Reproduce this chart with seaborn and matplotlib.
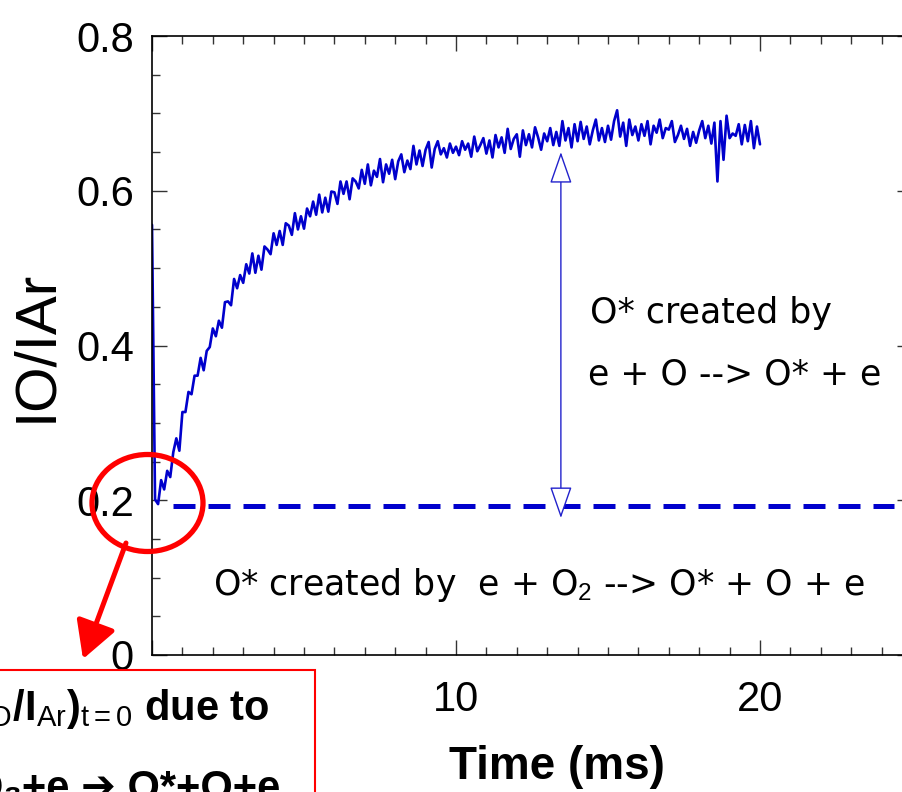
import numpy as np
import pandas as pd
import matplotlib
matplotlib.use('Agg')
import matplotlib.pyplot as plt
import seaborn as sns
from matplotlib.patches import Ellipse, Rectangle, FancyArrowPatch
from matplotlib.ticker import MultipleLocator, FixedLocator

ratio = [
    0.556, 0.201, 0.195, 0.226, 0.214, 0.238, 0.230, 0.262, 0.280, 0.264,
    0.314, 0.314, 0.340, 0.337, 0.361, 0.361, 0.384, 0.368, 0.393, 0.398,
    0.422, 0.412, 0.432, 0.423, 0.456, 0.457, 0.452, 0.486, 0.474, 0.491,
    0.481, 0.505, 0.493, 0.519, 0.494, 0.516, 0.498, 0.528, 0.524, 0.518,
    0.545, 0.530, 0.548, 0.530, 0.558, 0.555, 0.543, 0.571, 0.550, 0.567,
    0.551, 0.577, 0.567, 0.586, 0.569, 0.595, 0.572, 0.591, 0.573, 0.599,
    0.598, 0.583, 0.612, 0.596, 0.612, 0.589, 0.616, 0.612, 0.603, 0.627,
    0.609, 0.634, 0.607, 0.626, 0.618, 0.641, 0.611, 0.634, 0.622, 0.640,
    0.615, 0.638, 0.647, 0.624, 0.639, 0.628, 0.658, 0.634, 0.652, 0.632,
    0.653, 0.663, 0.630, 0.654, 0.664, 0.647, 0.655, 0.643, 0.661, 0.649,
    0.657, 0.646, 0.664, 0.653, 0.661, 0.644, 0.670, 0.651, 0.659, 0.668,
    0.648, 0.665, 0.643, 0.672, 0.656, 0.669, 0.649, 0.680, 0.654, 0.667,
    0.673, 0.644, 0.678, 0.659, 0.673, 0.656, 0.682, 0.669, 0.653, 0.674,
    0.664, 0.681, 0.659, 0.676, 0.658, 0.690, 0.665, 0.681, 0.656, 0.686,
    0.664, 0.689, 0.667, 0.683, 0.660, 0.678, 0.692, 0.665, 0.681, 0.663,
    0.684, 0.666, 0.690, 0.704, 0.670, 0.688, 0.658, 0.692, 0.672, 0.683,
    0.665, 0.686, 0.671, 0.690, 0.660, 0.684, 0.675, 0.692, 0.668, 0.681,
    0.679, 0.690, 0.663, 0.672, 0.684, 0.667, 0.680, 0.658, 0.676, 0.662,
    0.678, 0.690, 0.668, 0.684, 0.661, 0.688, 0.612, 0.690, 0.640, 0.697,
    0.668, 0.674, 0.671, 0.686, 0.660, 0.685, 0.664, 0.690, 0.655, 0.683,
    0.660,
]
time_ms = np.linspace(0, 20, len(ratio))

baseline_level = 0.193
baseline_t = [0.7, 24.4]
arrow_t = 13.45
arrow_span = [0.177, 0.65]

x_ticks = [0, 10, 20]
x_ticklabels = ['0', '10', '20']
y_ticks = [0, 0.2, 0.4, 0.6, 0.8]
y_ticklabels = ['0', '0.2', '0.4', '0.6', '0.8']

sns.set_style('ticks')
plt.rcParams['font.family'] = ['Liberation Sans', 'DejaVu Sans']
plt.rcParams['text.color'] = 'black'
plt.rcParams['axes.labelcolor'] = 'black'
plt.rcParams['mathtext.fontset'] = 'custom'
plt.rcParams['mathtext.rm'] = 'Liberation Sans'
plt.rcParams['mathtext.it'] = 'Liberation Sans:italic'
plt.rcParams['mathtext.bf'] = 'Liberation Sans:bold'

W, H = 903, 792
fig = plt.figure(figsize=(W / 100, H / 100), dpi=100)
ax = fig.add_axes([152 / W, 137 / H, 760 / W, 619 / H])

df = pd.DataFrame({'time': time_ms, 'ratio': ratio})
sns.lineplot(data=df, x='time', y='ratio', color='#0000cc', linewidth=1.9, ax=ax)
ax.plot(baseline_t, [baseline_level, baseline_level], color='#0000cc',
        linewidth=3.6, linestyle=(0, (4.4, 2.6)))

ax.annotate('', xy=(arrow_t, arrow_span[0]), xytext=(arrow_t, arrow_span[1]),
            arrowprops=dict(arrowstyle='<|-|>,head_length=1.0,head_width=0.35',
                            mutation_scale=20, fc='white', ec='#2222cc',
                            lw=1.0, shrinkA=0, shrinkB=0))

ax.set_xlim(0, 25)
ax.set_ylim(0, 0.8)
ax.xaxis.set_major_locator(FixedLocator(x_ticks))
ax.set_xticklabels(x_ticklabels)
ax.xaxis.set_minor_locator(MultipleLocator(1))
ax.yaxis.set_major_locator(FixedLocator(y_ticks))
ax.set_yticklabels(y_ticklabels)
ax.yaxis.set_minor_locator(MultipleLocator(0.05))
ax.tick_params(which='both', direction='in', top=True, right=True,
               width=1.0, color='#333333', labelcolor='black', labelsize=30)
ax.tick_params(which='major', length=11)
ax.tick_params(which='minor', length=6)
ax.tick_params(axis='y', pad=13)
ax.tick_params(axis='x', pad=18)
for s in ax.spines.values():
    s.set_linewidth(1.2)
    s.set_color('black')

ax.set_ylabel('IO/IAr', fontsize=42)
ax.yaxis.set_label_coords(-0.117, 0.5)
ax.set_xlabel('Time (ms)', fontsize=33, fontweight='bold')
ax.xaxis.set_label_coords(0.533, -0.145)

note_font = dict(fontsize=25, family=['DejaVu Sans'], color='black')
ax.text(14.4, 0.429, 'O* created by', ha='left', va='baseline', **note_font)
ax.text(14.33, 0.349, 'e + O --> O* + e', ha='left', va='baseline', **note_font)
ax.text(2.0, 0.0775, 'O* created by  e + O$_2$ --> O* + O + e',
        ha='left', va='baseline', **note_font)

# red highlight of the t=0 value
fig.add_artist(Ellipse((147.5 / W, 1 - 503 / H), 111 / W, 97 / H,
                       transform=fig.transFigure, fill=False,
                       ec='red', lw=3.8, zorder=5))
fig.add_artist(FancyArrowPatch((126 / W, 1 - 543 / H), (83 / W, 1 - 659 / H),
                               transform=fig.transFigure,
                               arrowstyle='-|>,head_length=0.9,head_width=0.5',
                               mutation_scale=25, color='red', lw=3.6,
                               shrinkA=0, shrinkB=0, zorder=5))
fig.add_artist(Rectangle((-0.05, -0.05), 315 / W + 0.05, (H - 670) / H + 0.05,
                         transform=fig.transFigure, fc='white', ec='red',
                         lw=1.5, zorder=4))
fig.text(270 / W, 1 - 720 / H,
         r'Non-zero (I$_\mathrm{O}$/I$_\mathrm{Ar}$)$_\mathrm{t=0}$ due to',
         ha='right', va='baseline', fontsize=30, fontweight='bold', zorder=6)
fig.text(280 / W, 1 - 800 / H, 'O\u2082+e \u2794 O*+O+e',
         ha='right', va='baseline', fontsize=30, fontweight='bold', zorder=6)

fig.savefig('out.png', dpi=100)
